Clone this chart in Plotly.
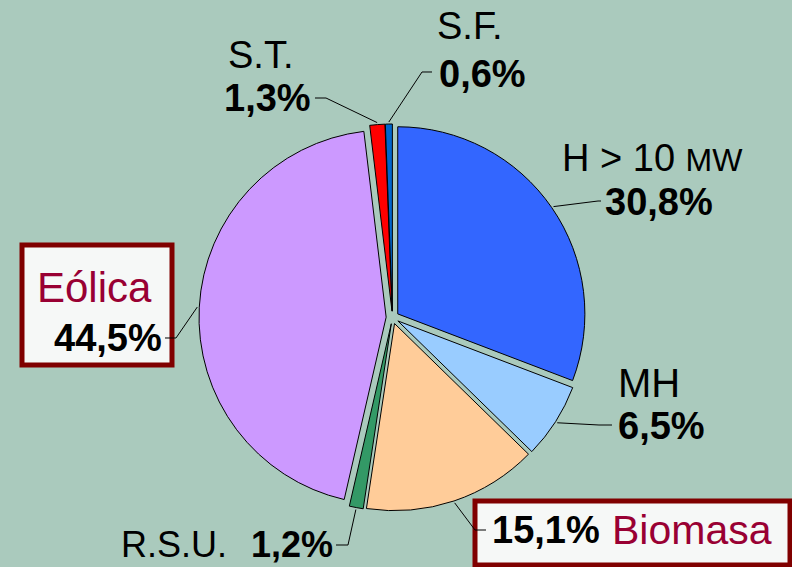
import math
import plotly.graph_objects as go

# ---- data ----
labels = ["H > 10 MW", "MH", "Biomasa", "R.S.U.", "Eólica", "S.T.", "S.F."]
shares = [30.8, 6.5, 15.1, 1.2, 44.5, 1.3, 0.6]
pct_text = ["30,8%", "6,5%", "15,1%", "1,2%", "44,5%", "1,3%", "0,6%"]
colors = ["#3366FF", "#99CCFF", "#FFCC99", "#339966", "#CC99FF", "#FF0000", "#0066CC"]

# ---- layout constants ----
W, H = 792, 567
ML, MR, MT, MB = 199, 206, 124, 56
PULL = 0.034
BG = "#AACABD"
DARKRED = "#800000"
WINE = "#990033"
FONT = "Liberation Sans, Arial, sans-serif"

pw = W - ML - MR
ph = H - MT - MB
cx = ML + pw / 2
cy = MT + ph / 2
R = min(pw, ph) / (2 + 2 * PULL)


def px(x):
    return (x - ML) / pw


def py(y):
    return 1 - (y - MT) / ph


fig = go.Figure(go.Pie(
    labels=labels,
    values=shares,
    sort=False,
    direction="clockwise",
    rotation=0,
    pull=[PULL] * len(shares),
    marker=dict(colors=colors, line=dict(color="#000000", width=1)),
    textinfo="none",
    hoverinfo="label+percent",
    showlegend=False,
))

# leader lines: start on the slice edge at its mid angle (from values), then elbow and end
leader_layout = {
    "H > 10 MW": [(598, 201), (601, 201)],
    "MH": [(599, 425), (612, 425)],
    "Biomasa": [(475, 530), (486, 530)],
    "R.S.U.": [(348, 545), (336, 545)],
    "Eólica": [(176, 338), (165, 338)],
    "S.T.": [(326, 98), (315, 98)],
    "S.F.": [(422, 72), (432, 72)],
}

total = sum(shares)
cum = 0.0
shapes = []
# boxes behind Eólica and Biomasa labels
shapes.append(dict(type="rect", xref="paper", yref="paper",
                   x0=px(22), x1=px(172), y0=py(245), y1=py(365),
                   fillcolor="#F6F8F7", line=dict(color=DARKRED, width=5), layer="above"))
shapes.append(dict(type="rect", xref="paper", yref="paper",
                   x0=px(475), x1=px(790), y0=py(501), y1=py(565),
                   fillcolor="#F6F8F7", line=dict(color=DARKRED, width=5), layer="above"))

for lab, v in zip(labels, shares):
    mid = (cum + v / 2) / total * 2 * math.pi
    cum += v
    rr = R * (1 + PULL) + 2
    sx = cx + rr * math.sin(mid)
    sy = cy - rr * math.cos(mid)
    (ex, ey), (fx, fy) = leader_layout[lab]
    path = "M {:.5f},{:.5f} L {:.5f},{:.5f} L {:.5f},{:.5f}".format(
        px(sx), py(sy), px(ex), py(ey), px(fx), py(fy))
    shapes.append(dict(type="path", xref="paper", yref="paper", path=path,
                       line=dict(color="#000000", width=1), layer="above"))

annotations = []


def add(text, x, y, xanchor, size=38, color="#000000"):
    annotations.append(dict(text=text, x=px(x), y=py(y), xref="paper", yref="paper",
                            xanchor=xanchor, yanchor="middle", showarrow=False,
                            font=dict(family=FONT, size=size, color=color)))


add("S.F.", 435, 26, "left")
add("<b>" + pct_text[6] + "</b>", 437, 74, "left")
add("S.T.", 226, 55, "left")
add("<b>" + pct_text[5] + "</b>", 313, 98, "right")
add("H &gt; 10 <span style='font-size:32px'>MW</span>", 560, 158, "left")
add("<b>" + pct_text[0] + "</b>", 603, 202, "left")
add("MH", 616, 383, "left", size=40)
add("<b>" + pct_text[1] + "</b>", 616, 426, "left")
add("Eólica", 35, 287, "left", size=42, color=WINE)
add("<b>" + pct_text[4] + "</b>", 164, 338, "right")
add("R.S.U.", 229, 544, "right", size=36)
add("<b>" + pct_text[3] + "</b>", 335, 544, "right", size=36)
add("<b>" + pct_text[2] + "</b>", 490, 530, "left")
add("Biomasa", 610, 530, "left", size=41, color=WINE)

fig.update_layout(
    width=W, height=H,
    margin=dict(l=ML, r=MR, t=MT, b=MB, autoexpand=False),
    paper_bgcolor=BG, plot_bgcolor=BG,
    shapes=shapes,
    annotations=annotations,
)

fig.write_html(
    "out.html",
    config={"displayModeBar": False},
    post_script="document.body.style.margin='0';document.body.style.overflow='hidden';",
)
